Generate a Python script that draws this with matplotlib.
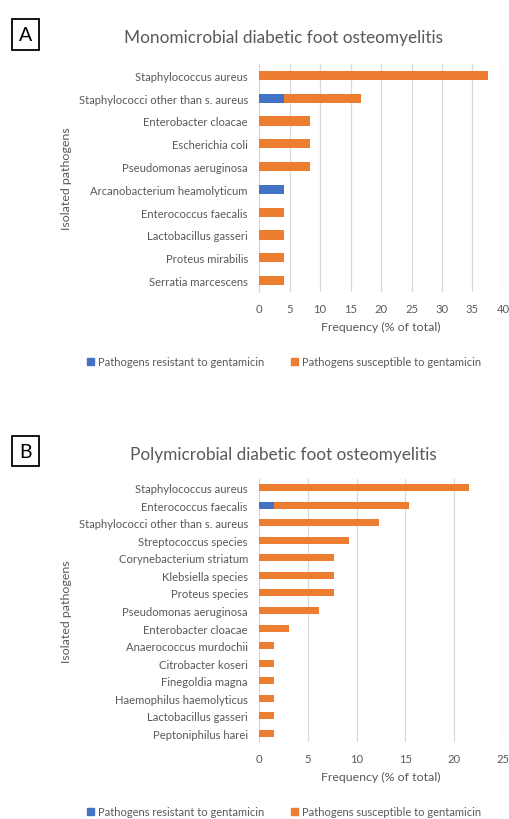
import matplotlib.pyplot as plt
from matplotlib.patches import Patch

plt.rcParams['font.family'] = ['Lato', 'DejaVu Sans']

# panel A: monomicrobial (n=24)
mono_names = ["Staphylococcus aureus", "Staphylococci other than s. aureus",
              "Enterobacter cloacae", "Escherichia coli", "Pseudomonas aeruginosa",
              "Arcanobacterium heamolyticum", "Enterococcus faecalis",
              "Lactobacillus gasseri", "Proteus mirabilis", "Serratia marcescens"]
mono_resistant = [0, 4.17, 0, 0, 0, 4.17, 0, 0, 0, 0]
mono_susceptible = [37.5, 12.5, 8.33, 8.33, 8.33, 0, 4.17, 4.17, 4.17, 4.17]

# panel B: polymicrobial (n=65)
poly_names = ["Staphylococcus aureus", "Enterococcus faecalis",
              "Staphylococci other than s. aureus", "Streptococcus species",
              "Corynebacterium striatum", "Klebsiella species", "Proteus species",
              "Pseudomonas aeruginosa", "Enterobacter cloacae", "Anaerococcus murdochii",
              "Citrobacter koseri", "Finegoldia magna", "Haemophilus haemolyticus",
              "Lactobacillus gasseri", "Peptoniphilus harei"]
poly_resistant = [0, 1.54, 0, 0, 0, 0, 0, 0, 0, 0, 0, 0, 0, 0, 0]
poly_susceptible = [21.54, 13.85, 12.31, 9.23, 7.69, 7.69, 7.69, 6.15, 3.08,
                    1.54, 1.54, 1.54, 1.54, 1.54, 1.54]

BLUE = "#4472C4"
ORANGE = "#ED7D31"
TXT = "#595959"
GRID = "#D9D9D9"

fig = plt.figure(figsize=(5.09, 8.20), dpi=100)
W, H = 509, 820


def panel(rect, names, res, sus, xmax, title, letter, title_y, box_xy, legend_y):
    l, t, r, b = rect
    ax = fig.add_axes([l / W, 1 - b / H, (r - l) / W, (b - t) / H])
    y = list(range(len(names)))
    ax.barh(y, res, height=0.4, color=BLUE, zorder=3)
    ax.barh(y, sus, left=res, height=0.4, color=ORANGE, zorder=3)
    ax.set_ylim(len(names) - 0.5, -0.5)
    ax.set_xlim(0, xmax)
    ax.set_xticks(range(0, xmax + 1, 5))
    ax.set_yticks(y)
    ax.set_yticklabels(names)
    ax.tick_params(length=0, labelsize=8.1, colors=TXT)
    ax.tick_params(axis='y', pad=8)
    ax.tick_params(axis='x', pad=8)
    ax.grid(axis='x', color=GRID, linewidth=0.9, zorder=0)
    for s in ['top', 'right', 'bottom']:
        ax.spines[s].set_visible(False)
    ax.spines['left'].set_color(GRID)
    ax.set_xlabel("Frequency (% of total)", fontsize=8.9, color=TXT, labelpad=5)
    fig.text(67 / W, 1 - (t + b) / 2 / H, "Isolated pathogens", rotation=90,
             fontsize=8.9, color=TXT, ha='center', va='center')
    fig.text(283 / W, 1 - title_y / H, title, fontsize=12.4, color=TXT,
             ha='center', va='center')
    fig.text(box_xy[0] / W, 1 - box_xy[1] / H, letter, fontsize=14, ha='center', va='center',
             bbox=dict(boxstyle='square,pad=0.35', fc='white', ec='black', lw=1.3))
    handles = [Patch(color=BLUE, label="Pathogens resistant to gentamicin"),
               Patch(color=ORANGE, label="Pathogens susceptible to gentamicin")]
    fig.legend(handles=handles, loc='center', bbox_to_anchor=(284 / W, 1 - legend_y / H),
               ncol=2, frameon=False, fontsize=8.0, labelcolor=TXT,
               handlelength=0.6, handleheight=0.6, handletextpad=0.4, columnspacing=2.4)
    return ax


panel((259, 65, 503, 293), mono_names, mono_resistant, mono_susceptible, 40,
      "Monomicrobial diabetic foot osteomyelitis", "A", 38, (25.5, 35.5), 363)
panel((259, 480, 503, 743), poly_names, poly_resistant, poly_susceptible, 25,
      "Polymicrobial diabetic foot osteomyelitis", "B", 455, (25.5, 452), 813)

fig.savefig("out.png", dpi=100)
